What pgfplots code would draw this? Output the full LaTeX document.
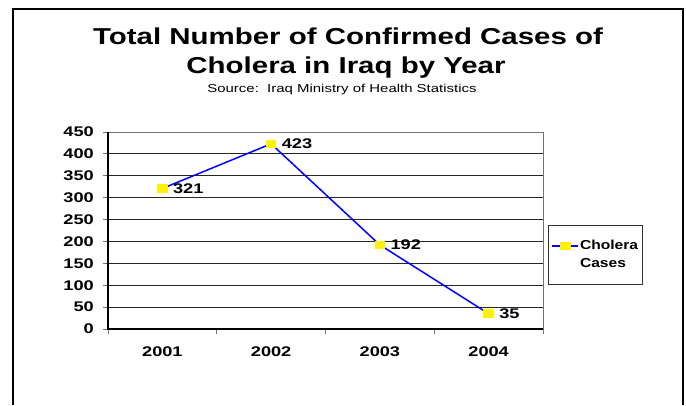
\documentclass[border=0pt]{standalone}
\usepackage{fontspec}
\usepackage{pgfplots}
\pgfplotsset{compat=1.18}
\setmainfont{Liberation Sans}
\newfontfamily\wfA{Liberation Sans}[FakeStretch=1.3]
\newfontfamily\wfT{Liberation Sans}[FakeStretch=1.28]
\newfontfamily\wfB{Liberation Sans}[FakeStretch=1.2]
\begin{document}
\begin{tikzpicture}
\useasboundingbox (0,0) rectangle (686pt,405pt);
\draw[line width=2pt] (13pt,0pt) -- (13pt,396pt) -- (683pt,396pt) -- (683pt,0pt);
\node[anchor=base, inner sep=0pt, font=\wfT\bfseries\fontsize{23}{26}\selectfont] at (348pt,360pt) {Total Number of Confirmed Cases of};
\node[anchor=base, inner sep=0pt, font=\wfT\bfseries\fontsize{23}{26}\selectfont] at (346pt,331pt) {Cholera in Iraq by Year};
\node[anchor=base, inner sep=0pt, font=\wfA\fontsize{11.5}{13}\selectfont] at (342pt,312pt) {Source:\ \ Iraq Ministry of Health Statistics};
\begin{axis}[
  at={(108pt,76pt)}, anchor=south west,
  scale only axis, width=435pt, height=197pt,
  xmin=0.5, xmax=4.5, ymin=0, ymax=450,
  ytick={0,50,...,450},
  xtick={0.5,1.5,2.5,3.5,4.5}, xticklabels={},
  extra x ticks={1,2,3,4},
  extra x tick labels={2001,2002,2003,2004},
  extra x tick style={major tick length=0pt, grid=none,
     xticklabel style={yshift=-18pt}},
  tick pos=left,
  ymajorgrids,
  grid style={black!85, line width=1pt},
  axis line style={draw=black!55, line width=1pt},
  tick align=outside, major tick length=5pt,
  tick style={black!55, line width=1pt},
  /pgf/number format/assume math mode=true,
  ticklabel style={font=\wfA\bfseries\fontsize{14}{14}\selectfont},
  yticklabel style={inner sep=0pt, xshift=-9pt},
  xticklabel style={inner sep=0pt, anchor=north},
  legend style={at={(1,0.376)}, anchor=west, xshift=5pt,
     draw=black!80, line width=1pt, fill=white,
     inner xsep=3pt, inner ysep=14pt,
     font=\wfB\bfseries\fontsize{13}{18}\selectfont,
     nodes={align=left, inner sep=1pt}},
  legend cell align=left,
  legend image code/.code={\path (0pt,-9pt); \draw[mark repeat=2,mark phase=2,#1] plot coordinates {(0pt,9pt) (13pt,9pt) (26pt,9pt)};},
  clip=false,
]
\addplot[blue, line width=1.5pt, mark=square*, mark size=3.5pt,
  mark options={fill=yellow, draw=yellow, xscale=1.3, solid},
  point meta=explicit symbolic, nodes near coords,
  nodes near coords style={anchor=west, inner sep=0pt, xshift=10pt, text=black,
     font=\wfA\bfseries\fontsize{14}{14}\selectfont}]
  coordinates {(1,321) [321] (2,423) [423] (3,192) [192] (4,35) [35]};
\addlegendentry{Cholera\\Cases}
\draw[black, line width=2pt] (rel axis cs:0,1) -- (rel axis cs:0,0) -- (rel axis cs:1,0);
\end{axis}
\end{tikzpicture}
\end{document}
